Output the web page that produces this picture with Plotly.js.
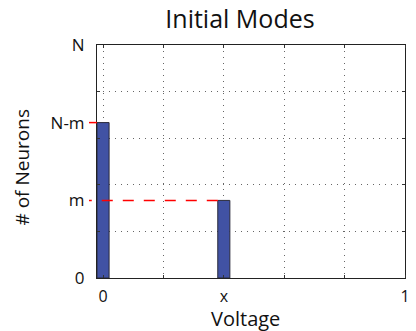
<!DOCTYPE html>
<html>
<head>
<meta charset="utf-8">
<script src="https://cdn.plot.ly/plotly-3.0.1.min.js"></script>
<style>
  html, body { margin: 0; padding: 0; background: #fff; }
  #chart { width: 416px; height: 331px; }
</style>
</head>
<body>
<div id="chart"></div>
<script>
// Two initial modes: a population at voltage 0 and one at voltage x
const voltages = [0, 0.4];
const neuronCounts = [0.667, 0.333];
const barWidth = 0.04;

// Labelled ticks (symbolic) and the dotted grid positions
const xTickVals = [0, 0.4, 1];
const xTickText = ['0', 'x', '1'];
const xGridVals = [0, 0.2, 0.4, 0.6, 0.8, 1];
const yTickVals = [0, 0.333, 0.667, 1];
const yTickText = ['0', 'm', 'N-m', 'N'];
const yGridVals = [0.2, 0.4, 0.6, 0.8];

const xRange = [-0.02, 1];
const yRange = [0, 1];

const font = 'Open Sans, Lato, sans-serif';

// dashed guides run from each bar's left edge out past the y axis
const toPaperX = v => (v - xRange[0]) / (xRange[1] - xRange[0]);
const guideEnd = -0.026;
const guides = voltages.map((v, i) => ({
  type: 'line',
  xref: 'paper', yref: 'y',
  x0: toPaperX(v - barWidth / 2), x1: guideEnd,
  y0: neuronCounts[i], y1: neuronCounts[i],
  line: { color: '#ff0000', width: 1.5, dash: '11px,10px' },
  layer: 'above'
}));

const trace = {
  type: 'bar',
  x: voltages,
  y: neuronCounts,
  width: barWidth,
  marker: { color: '#4152a4', line: { color: '#2a2a3a', width: 1 } },
  hoverinfo: 'skip'
};

const gridStyle = (vals) => ({
  tickmode: 'array', tickvals: vals,
  ticks: 'inside', ticklen: 3, tickcolor: '#333',
  showgrid: true, gridcolor: '#666', gridwidth: 1, griddash: '1px,5px'
});

const axisCommon = {
  showline: true, linecolor: '#222', linewidth: 1, mirror: 'ticks',
  ticks: '', showgrid: false,
  zeroline: false, fixedrange: true
};

const layout = {
  width: 416, height: 331,
  margin: { l: 97, r: 11, t: 45, b: 53 },
  paper_bgcolor: '#fff', plot_bgcolor: '#fff',
  showlegend: false,
  title: {
    text: 'Initial Modes',
    font: { family: font, size: 25, color: '#111' },
    x: 240 / 416, xanchor: 'center', xref: 'container',
    y: 1 - 28 / 331, yanchor: 'bottom', yref: 'container'
  },
  xaxis: Object.assign({}, axisCommon, {
    range: xRange, tickmode: 'array', tickvals: xTickVals, ticktext: xTickText,
    ticklabelstandoff: 4,
    tickfont: { family: font, size: 16, color: '#111' },
    minor: gridStyle(xGridVals)
  }),
  yaxis: Object.assign({}, axisCommon, {
    range: yRange, tickmode: 'array', tickvals: yTickVals, ticktext: yTickText,
    ticklabelstandoff: 8,
    tickfont: { family: font, size: 17, color: '#111' },
    minor: gridStyle(yGridVals)
  }),
  shapes: guides,
  annotations: [
    {
      text: 'Voltage', xref: 'paper', yref: 'paper',
      x: (245 - 97) / 308, y: -0.108, xanchor: 'center', yanchor: 'top',
      showarrow: false, font: { family: font, size: 20, color: '#111' }
    },
    {
      text: '# of Neurons', xref: 'paper', yref: 'paper', textangle: -90,
      x: -0.245, y: (278 - 167) / 233, xanchor: 'center', yanchor: 'middle',
      showarrow: false, font: { family: font, size: 19, color: '#111' }
    }
  ]
};

Plotly.newPlot('chart', [trace], layout, { staticPlot: true, displayModeBar: false });
</script>
</body>
</html>
